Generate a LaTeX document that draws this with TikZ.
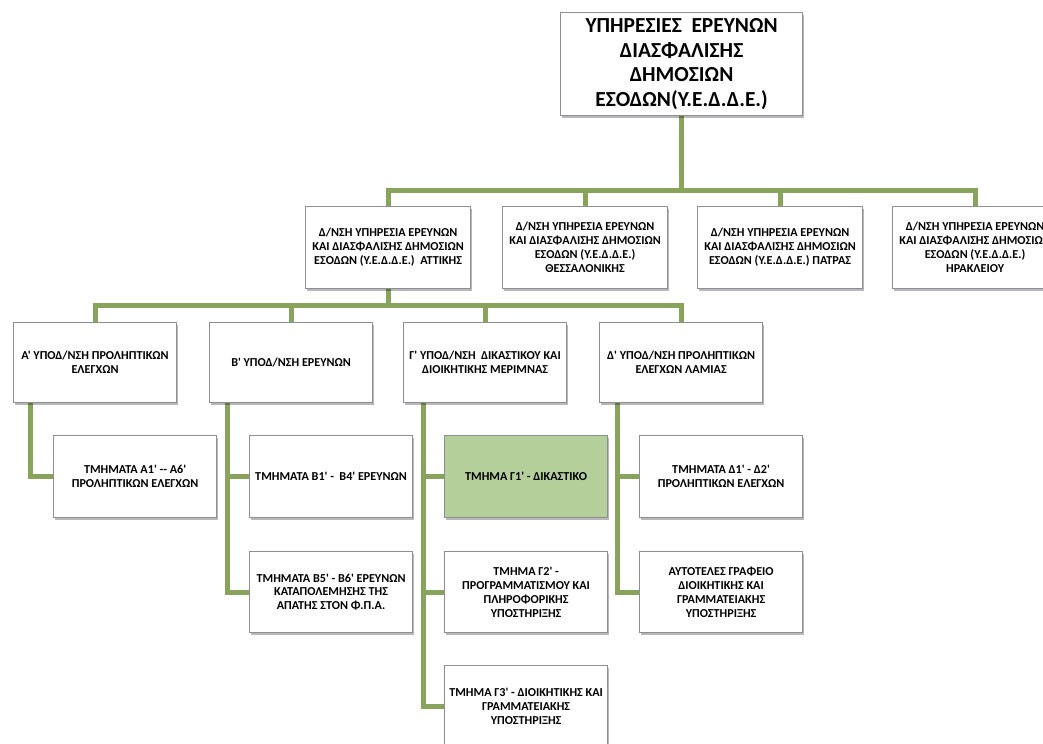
\documentclass[tikz,border=0pt]{standalone}
\usepackage{fontspec}
\newfontfamily\cf{Carlito}
\usetikzlibrary{shadows,calc,backgrounds}
\definecolor{lnk}{HTML}{88A35C}
\definecolor{bord}{HTML}{8C8F94}
\definecolor{gfill}{HTML}{B5CF9B}
\begin{document}
\begin{tikzpicture}[x=1bp,y=-1bp,
  box/.style={draw=bord,line width=1.2bp,fill=white,anchor=north west,align=center,inner sep=1bp,
    font=\cf\bfseries\fontsize{12.2}{14}\selectfont,
    drop shadow={shadow xshift=1.5bp,shadow yshift=-2.5bp,fill=black,opacity=0.28}},
  bigbox/.style={box,minimum width=242bp,minimum height=103bp,font=\cf\bfseries\fontsize{21.5}{24.5}\selectfont},
  midbox/.style={box,minimum width=165bp,minimum height=82bp},
  smbox/.style={box,minimum width=163bp,minimum height=81bp},
  link/.style={draw=lnk,line width=5bp}]
\useasboundingbox (0,0) rectangle (1043,744);
\clip (0,0) rectangle (1043,744);

% level 0
\node[bigbox] (top) at (560,12) {ΥΠΗΡΕΣΙΕΣ~ ΕΡΕΥΝΩΝ\\ΔΙΑΣΦΑΛΙΣΗΣ\\ΔΗΜΟΣΙΩΝ\\ΕΣΟΔΩΝ(Υ.Ε.Δ.Δ.Ε.)};

% level 1
\node[midbox] (r1) at (305,206) {Δ/ΝΣΗ ΥΠΗΡΕΣΙΑ ΕΡΕΥΝΩΝ\\ΚΑΙ ΔΙΑΣΦΑΛΙΣΗΣ ΔΗΜΟΣΙΩΝ\\ΕΣΟΔΩΝ (Υ.Ε.Δ.Δ.Ε.)~ ΑΤΤΙΚΗΣ};
\node[midbox] (r2) at (502,206) {Δ/ΝΣΗ ΥΠΗΡΕΣΙΑ ΕΡΕΥΝΩΝ\\ΚΑΙ ΔΙΑΣΦΑΛΙΣΗΣ ΔΗΜΟΣΙΩΝ\\ΕΣΟΔΩΝ (Υ.Ε.Δ.Δ.Ε.)\\ΘΕΣΣΑΛΟΝΙΚΗΣ};
\node[midbox] (r3) at (697,206) {Δ/ΝΣΗ ΥΠΗΡΕΣΙΑ ΕΡΕΥΝΩΝ\\ΚΑΙ ΔΙΑΣΦΑΛΙΣΗΣ ΔΗΜΟΣΙΩΝ\\ΕΣΟΔΩΝ (Υ.Ε.Δ.Δ.Ε.) ΠΑΤΡΑΣ};
\node[midbox] (r4) at (892,206) {Δ/ΝΣΗ ΥΠΗΡΕΣΙΑ ΕΡΕΥΝΩΝ\\ΚΑΙ ΔΙΑΣΦΑΛΙΣΗΣ ΔΗΜΟΣΙΩΝ\\ΕΣΟΔΩΝ (Υ.Ε.Δ.Δ.Ε.)\\ΗΡΑΚΛΕΙΟΥ};

% level 2
\node[smbox,minimum height=80bp] (sa) at (13,322) {Α' ΥΠΟΔ/ΝΣΗ ΠΡΟΛΗΠΤΙΚΩΝ\\ΕΛΕΓΧΩΝ};
\node[smbox,minimum height=80bp] (sb) at (209,322) {Β' ΥΠΟΔ/ΝΣΗ ΕΡΕΥΝΩΝ};
\node[smbox,minimum height=80bp] (sg) at (403,322) {Γ' ΥΠΟΔ/ΝΣΗ~ ΔΙΚΑΣΤΙΚΟΥ ΚΑΙ\\ΔΙΟΙΚΗΤΙΚΗΣ ΜΕΡΙΜΝΑΣ};
\node[smbox,minimum height=80bp] (sd) at (599,322) {Δ' ΥΠΟΔ/ΝΣΗ ΠΡΟΛΗΠΤΙΚΩΝ\\ΕΛΕΓΧΩΝ ΛΑΜΙΑΣ};

% level 3
\node[smbox,minimum height=82bp] (a1) at (53,435) {ΤΜΗΜΑΤΑ Α1' -{}- Α6'\\ΠΡΟΛΗΠΤΙΚΩΝ ΕΛΕΓΧΩΝ};
\node[smbox,minimum height=82bp] (b1) at (249,435) {ΤΜΗΜΑΤΑ Β1' -~ Β4' ΕΡΕΥΝΩΝ};
\node[smbox,minimum height=82bp,fill=gfill] (g1) at (444,435) {ΤΜΗΜΑ Γ1' - ΔΙΚΑΣΤΙΚΟ};
\node[smbox,minimum height=82bp] (d1) at (639,435) {ΤΜΗΜΑΤΑ Δ1' - Δ2'\\ΠΡΟΛΗΠΤΙΚΩΝ ΕΛΕΓΧΩΝ};

\node[smbox] (b5) at (249,551) {ΤΜΗΜΑΤΑ Β5' - Β6' ΕΡΕΥΝΩΝ\\ΚΑΤΑΠΟΛΕΜΗΣΗΣ ΤΗΣ\\ΑΠΑΤΗΣ ΣΤΟΝ Φ.Π.Α.};
\node[smbox] (g2) at (444,551) {ΤΜΗΜΑ Γ2' -\\ΠΡΟΓΡΑΜΜΑΤΙΣΜΟΥ ΚΑΙ\\ΠΛΗΡΟΦΟΡΙΚΗΣ\\ΥΠΟΣΤΗΡΙΞΗΣ};
\node[smbox] (d2) at (639,551) {ΑΥΤΟΤΕΛΕΣ ΓΡΑΦΕΙΟ\\ΔΙΟΙΚΗΤΙΚΗΣ ΚΑΙ\\ΓΡΑΜΜΑΤΕΙΑΚΗΣ\\ΥΠΟΣΤΗΡΙΞΗΣ};

\node[smbox,minimum height=82bp] (g3) at (444,665) {ΤΜΗΜΑ Γ3' - ΔΙΟΙΚΗΤΙΚΗΣ ΚΑΙ\\ΓΡΑΜΜΑΤΕΙΑΚΗΣ\\ΥΠΟΣΤΗΡΙΞΗΣ};

\begin{scope}[on background layer]
\fill[white] (0,0) rectangle (1043,744);
\coordinate (bus1) at (0,190);
\coordinate (bus2) at (0,305);
\foreach \n in {r1,r2,r3,r4}
  \draw[link] (top.south) -- (top.south |- bus1) -| (\n.north);
\foreach \n in {sa,sb,sg,sd}
  \draw[link] (r1.south) -- (r1.south |- bus2) -| (\n.north);
\coordinate (ta) at ($(sa.south west)+(17,0)$);
\coordinate (tb) at ($(sb.south west)+(18,0)$);
\coordinate (tg) at ($(sg.south west)+(20,0)$);
\coordinate (td) at ($(sd.south west)+(18,0)$);
\draw[link] (ta) |- (a1.west);
\draw[link] (tb) |- (b1.west);
\draw[link] (tb) |- (b5.west);
\draw[link] (tg) |- (g1.west);
\draw[link] (tg) |- (g2.west);
\draw[link] (tg) |- (g3.west);
\draw[link] (td) |- (d1.west);
\draw[link] (td) |- (d2.west);
\end{scope}
\end{tikzpicture}
\end{document}
